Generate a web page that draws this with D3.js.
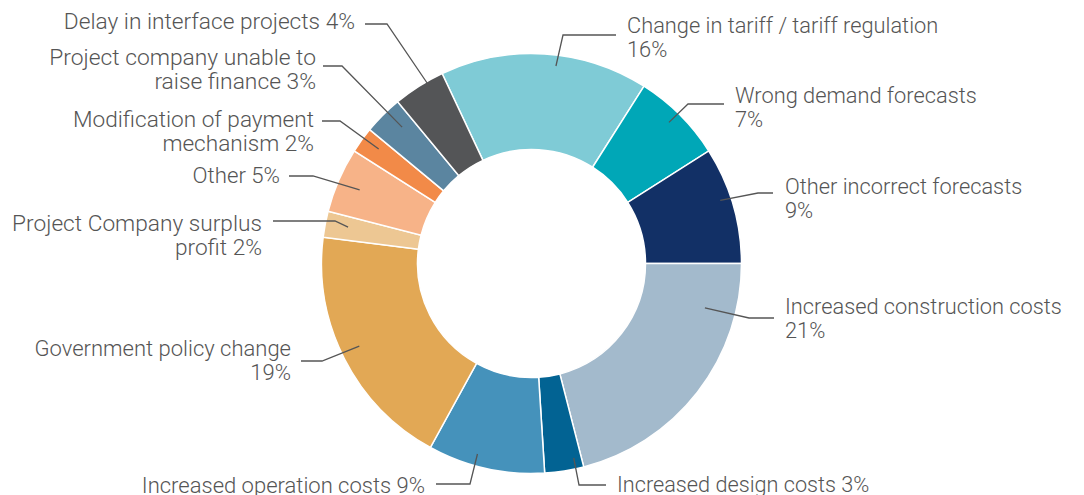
<!DOCTYPE html>
<html>
<head>
<meta charset="utf-8">
<script src="https://cdn.jsdelivr.net/npm/d3@7"></script>
<style>
  html, body { margin: 0; padding: 0; background: #fff; }
  svg text { font-family: Roboto, "Open Sans", sans-serif; font-weight: 300; fill: #555; }
</style>
</head>
<body>
<svg id="chart" width="1084" height="495"></svg>
<script>
// ---- data
var categories = ["Change in tariff / tariff regulation", "Wrong demand forecasts", "Other incorrect forecasts",
  "Increased construction costs", "Increased design costs", "Increased operation costs", "Government policy change",
  "Project Company surplus profit", "Other", "Modification of payment mechanism",
  "Project company unable to raise finance", "Delay in interface projects"]
var values = [16, 7, 9, 21, 3, 9, 19, 2, 5, 2, 3, 4]
var colors = ["#7fcbd6", "#00a7b7", "#123066", "#a3bacc", "#026393", "#4592bb", "#e2a855",
  "#edc793", "#f7b388", "#f28a48", "#5b85a0", "#545557"]
// label text split in lines, the percent is added to the last line
var labelLines = [["Change in tariff / tariff regulation", ""], ["Wrong demand forecasts", ""], ["Other incorrect forecasts", ""],
  ["Increased construction costs", ""], ["Increased design costs"], ["Increased operation costs"], ["Government policy change", ""],
  ["Project Company surplus", "profit"], ["Other"], ["Modification of payment", "mechanism"],
  ["Project company unable to", "raise finance"], ["Delay in interface projects"]]

// ---- layout of the labels (t = where in the slice the leader starts, r = radius)
var labelLayout = [
  { t: 0.56, r: 199, elbow: [563, 35], end: [616, 35], text: [627, 33], anchor: "start", size: 21.8 },
  { t: 0.47, r: 197, elbow: [688, 104], end: [724, 104], text: [735, 103], anchor: "start", size: 21.8 },
  { t: 0.43, r: 199, elbow: [758, 193], end: [773, 193], text: [785, 194], anchor: "start", size: 21.8 },
  { t: 0.19, r: 179, elbow: [749, 318], end: [774, 318], text: [785, 314], anchor: "start", size: 21.8 },
  { t: 0.2, r: 199, elbow: [579, 485], end: [606, 485], text: [617, 492], anchor: "start", size: 21.7 },
  { t: 0.6, r: 198, elbow: [470, 484], end: [436, 484], text: [425, 493], anchor: "end", size: 22 },
  { t: 0.52, r: 191, elbow: [322, 361], end: [301, 361], text: [291, 356], anchor: "end", size: 22 },
  { t: 0.56, r: 187, elbow: [335, 221], end: [273, 221], text: [262, 231], anchor: "end", size: 22.7 },
  { t: 0.49, r: 187, elbow: [313, 176], end: [289, 176], text: [280, 183], anchor: "end", size: 22.2 },
  { t: 0.62, r: 191, elbow: [340, 121], end: [322, 121], text: [314, 127], anchor: "end", size: 22.6 },
  { t: 0.64, r: 188, elbow: [342, 66], end: [323, 66], text: [316, 65], anchor: "end", size: 22.8 },
  { t: 0.67, r: 204, elbow: [387, 24], end: [365, 24], text: [355, 29], anchor: "end", size: 22.7 }
]

var cx = 531.5, cy = 263.5
var outerR = 210, innerR = 114
var svg = d3.select("#chart")

// boundary after the first three slices sits at 3 o'clock
var total = d3.sum(values)
var start = Math.PI / 2 - 2 * Math.PI * d3.sum(values.slice(0, 3)) / total

var pie = d3.pie().sort(null).value(d => d).startAngle(start).endAngle(start + 2 * Math.PI)
var arcs = pie(values)
var arc = d3.arc().innerRadius(innerR).outerRadius(outerR)

var g = svg.append("g").attr("transform", "translate(" + cx + "," + cy + ")")
g.selectAll(".slice").data(arcs).join("path").attr("class", "slice")
  .attr("d", arc)
  .style("fill", (d, i) => colors[i])
  .style("stroke", "#fff").style("stroke-width", 1.5)

//----------------------------------------------------------- leaders + labels
var leaders = arcs.map((d, i) => {
  var L = labelLayout[i]
  var a = d.startAngle + L.t * (d.endAngle - d.startAngle)
  return [[cx + L.r * Math.sin(a), cy - L.r * Math.cos(a)], L.elbow, L.end]
})
svg.selectAll(".leader").data(leaders).join("path").attr("class", "leader")
  .attr("d", d3.line())
  .style("fill", "none").style("stroke", "#555").style("stroke-width", 1.3)

svg.selectAll(".label").data(arcs).join("text").attr("class", "label")
  .attr("x", (d, i) => labelLayout[i].text[0])
  .attr("y", (d, i) => labelLayout[i].text[1])
  .attr("text-anchor", (d, i) => labelLayout[i].anchor)
  .style("font-size", (d, i) => labelLayout[i].size + "px")
  .each(function (d, i) {
    var lines = labelLines[i].slice()
    var last = lines.length - 1
    lines[last] = (lines[last] ? lines[last] + " " : "") + values[i] + "%"
    d3.select(this).selectAll("tspan").data(lines).join("tspan")
      .attr("x", labelLayout[i].text[0])
      .attr("dy", (l, j) => j == 0 ? 0 : 24)
      .text(l => l)
  })
</script>
</body>
</html>
